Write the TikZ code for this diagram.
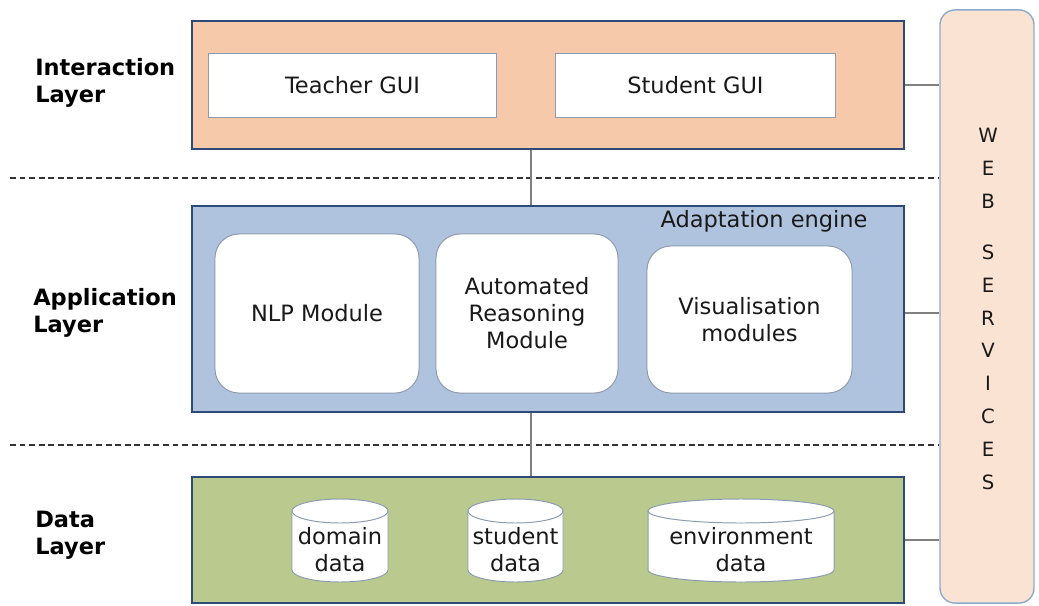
\documentclass[tikz,border=0pt]{standalone}
\usepackage{fontspec}
\setmainfont{DejaVu Sans}
\usetikzlibrary{calc}

\definecolor{interfill}{HTML}{F5C9A9}
\definecolor{appfill}{HTML}{B0C3DE}
\definecolor{datafill}{HTML}{BAC98E}
\definecolor{webfill}{HTML}{FAE3D3}
\definecolor{webline}{HTML}{8EA9CF}
\definecolor{layerline}{HTML}{2E4B78}
\definecolor{boxline}{HTML}{8C9BB0}
\definecolor{connline}{HTML}{808080}

\begin{document}
\begin{tikzpicture}[x=0.025cm,y=-0.025cm,
  every node/.style={font=\fontsize{16}{19.2}\selectfont, text=black!90, inner sep=0pt, align=center},
  layerlbl/.style={anchor=west, align=left, font=\bfseries\fontsize{16}{19.2}\selectfont, text=black},
  layerbox/.style={draw=layerline, line width=1.8pt, minimum width=17.8cm},
  guibox/.style={draw=boxline, fill=white, line width=0.7pt, minimum height=1.6cm},
  modbox/.style={draw=boxline, fill=white, line width=0.7pt, rounded corners=0.6cm},
  storeline/.style={draw=boxline, fill=white, line width=0.7pt},
  conn/.style={draw=connline, line width=1pt},
  sep/.style={draw=black!80, line width=0.8pt, dash pattern=on 4.2pt off 2.6pt}]

\useasboundingbox (0,0) rectangle (1039,605);

% === Web services column ===
\node[draw=webline, fill=webfill, line width=1pt, rounded corners=0.375cm,
  minimum width=2.35cm, minimum height=14.825cm] (web) at (987,306.5) {};
\node[font=\fontsize{14}{23.4}\selectfont] (webtxt) at (988,309)
  {W\\E\\B\\[12.8pt]S\\E\\R\\V\\I\\C\\E\\S};

% === Interaction layer ===
\node[layerlbl] (ilbl) at (35,83) {Interaction\\Layer};
\node[layerbox, fill=interfill, minimum height=3.2cm] (inter) at (548,85) {};
\node[guibox, minimum width=7.175cm] (teacher) at (352.5,85) {Teacher GUI};
\node[guibox, minimum width=6.975cm] (student) at (695.5,85) {Student GUI};

% === Application layer ===
\node[layerlbl] (albl) at (33,312.5) {Application\\Layer};
\node[layerbox, fill=appfill, minimum height=5.15cm] (app) at (548,309) {};
\node (engine) at (764,221) {Adaptation engine};
\node[modbox, minimum width=5.1cm, minimum height=3.975cm] (nlp) at (317,313.5) {NLP Module};
\node[modbox, minimum width=4.55cm, minimum height=3.975cm] (reason) at (527,313.5)
  {Automated\\Reasoning\\Module};
\node[modbox, minimum width=5.125cm, minimum height=3.675cm] (vis) at (749.5,319.5)
  {Visualisation\\modules};

% === Data layer ===
\node[layerlbl] (dlbl) at (35,535) {Data\\Layer};
\node[layerbox, fill=datafill, minimum height=3.15cm] (data) at (548,540) {};
% data stores as cylinders: centre x / half width / name / text
\foreach \cx/\rx/\nm/\txt in {340/48/domain/{domain\\data},
    515.5/47.5/studdata/{student\\data},
    741/93/envdata/{environment\\data}} {
  \path[storeline] (\cx-\rx,511) -- (\cx-\rx,570)
    arc[start angle=180, end angle=360, x radius={\rx*0.025cm}, y radius=0.3cm]
    -- (\cx+\rx,511)
    arc[start angle=0, end angle=180, x radius={\rx*0.025cm}, y radius=0.3cm] -- cycle;
  \draw[boxline, line width=0.7pt] (\cx-\rx,511)
    arc[start angle=180, end angle=360, x radius={\rx*0.025cm}, y radius=0.3cm];
  \node (\nm) at (\cx,550) {\txt};
}

% === Separators ===
\coordinate (s1) at (10,178);
\coordinate (s2) at (10,445);
\draw[sep] (s1) -- (s1 -| web.west);
\draw[sep] (s2) -- (s2 -| web.west);

% === Connectors ===
\draw[conn] ($(inter.south)+(-17,0)$) -- ($(app.north)+(-17,0)$);
\draw[conn] ($(app.south)+(-17,0)$) -- ($(data.north)+(-17,0)$);
\draw[conn] (inter.east) -- (inter.east -| web.west);
\draw[conn] ($(app.east)+(0,4)$) -- ($(app.east -| web.west)+(0,4)$);
\draw[conn] (data.east) -- (data.east -| web.west);

\end{tikzpicture}
\end{document}
